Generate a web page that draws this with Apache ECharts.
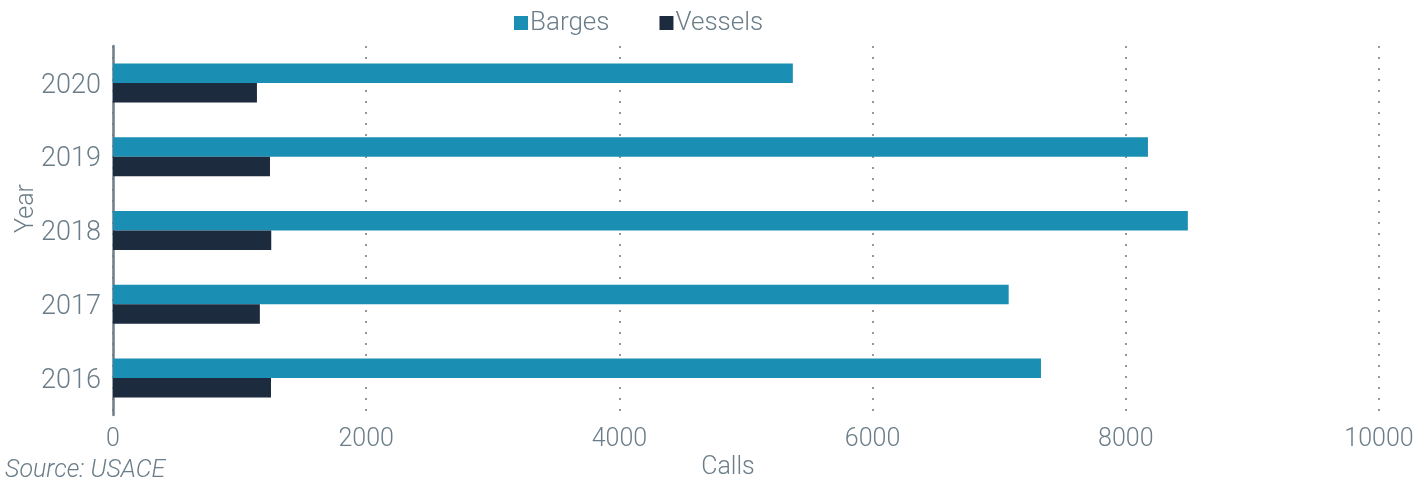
<!DOCTYPE html>
<html><head><meta charset="utf-8">
<script src="https://cdn.jsdelivr.net/npm/echarts@6/dist/echarts.min.js"></script>
<style>html,body{margin:0;padding:0;background:#fff}#c{width:1428px;height:477px}</style>
</head><body><div id="c"></div>
<script>
const years = ['2016','2017','2018','2019','2020'];
const barges = [7330, 7075, 8490, 8175, 5370];
const vessels = [1248, 1160, 1250, 1240, 1137];
const xTicks = [0, 2000, 4000, 6000, 8000, 10000];

const FONT = 'Roboto';
const TXT = '#6b7d88';
const chart = echarts.init(document.getElementById('c'), null, {renderer:'canvas'});
chart.setOption({
  animation:false,
  textStyle:{fontFamily:FONT, fontWeight:300},
  legend:{
    top:5, left:509, itemWidth:14, itemHeight:14, itemGap:50,
    icon:'rect',
    textStyle:{fontSize:26, color:TXT, fontFamily:FONT, fontWeight:300, padding:[0,0,0,-3]},
    data:['Barges','Vessels']
  },
  grid:{left:113, right:49, top:46, bottom:62, containLabel:false, outerBoundsMode:'none'},
  xAxis:{
    type:'value', min:xTicks[0], max:xTicks[xTicks.length-1], interval:2000,
    name:'Calls', nameLocation:'middle', nameGap:40, nameMoveOverlap:false,
    nameTextStyle:{fontSize:25, color:TXT, fontFamily:FONT, fontWeight:300, padding:[0,36,0,0]},
    axisLine:{show:false}, axisTick:{show:false},
    axisLabel:{fontSize:25, color:TXT, fontFamily:FONT, fontWeight:300, margin:12,
      formatter:function(v){return String(v);}},
    splitLine:{show:true, lineStyle:{type:[2,9], color:'#6b7580', width:1.5}}
  },
  yAxis:{
    type:'category', data:years,
    name:'Year', nameLocation:'middle', nameGap:74, nameRotate:90, nameMoveOverlap:false,
    nameTextStyle:{fontSize:25, color:TXT, fontFamily:FONT, fontWeight:300, padding:[0,0,0,44]},
    axisLine:{show:true, lineStyle:{color:'#6e7d87', width:2.5}},
    axisTick:{show:false},
    axisLabel:{color:TXT, margin:12,
      formatter:function(v){return '{y|'+v+'}';},
      rich:{y:{fontSize:27, color:TXT, fontFamily:FONT, fontWeight:300, padding:[6,0,0,0]}}}
  },
  series:[
    {name:'Barges', type:'bar', data:barges, barWidth:19.5, barGap:'0%',
     itemStyle:{color:'#1b8fb3'}},
    {name:'Vessels', type:'bar', data:vessels, barWidth:19.5, barGap:'0%',
     itemStyle:{color:'#1c2b3d'}}
  ],
  graphic:[{type:'text', left:5, top:458,
    style:{text:'Source: USACE', font:'italic 300 25px '+FONT, fill:TXT}}]
});
</script></body></html>
